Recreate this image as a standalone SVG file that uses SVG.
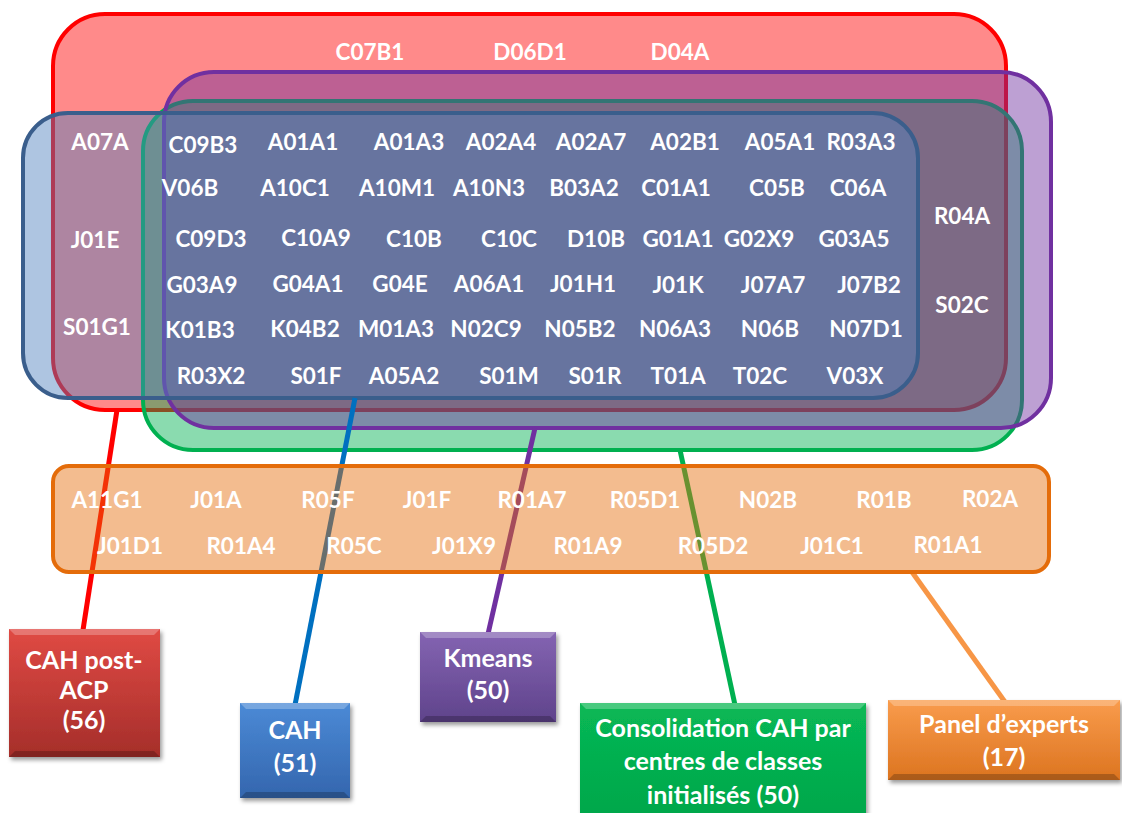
<svg xmlns="http://www.w3.org/2000/svg" width="1122" height="813" viewBox="0 0 1122 813">
<style>
.lbl{font-family:Lato,"Liberation Sans",sans-serif;font-weight:700;font-size:22.5px;fill:#fff;text-anchor:middle}
.bx{font-size:25px}
.set{stroke-width:4;fill-opacity:0.46}
.con{stroke-width:5;fill:none;stroke-linecap:butt}
.hi{fill:#fff;fill-opacity:0.25}
.sh{fill:#000;fill-opacity:0.22}
</style>
<defs>
<filter id="ds" x="-10%" y="-10%" width="130%" height="130%"><feDropShadow dx="2" dy="3" stdDeviation="2" flood-color="#000" flood-opacity="0.4"/></filter>
<linearGradient id="gR" x1="0" y1="0" x2="0" y2="1"><stop offset="0" stop-color="#e04a44"/><stop offset="1" stop-color="#a52e2a"/></linearGradient>
<linearGradient id="gB" x1="0" y1="0" x2="0" y2="1"><stop offset="0" stop-color="#4b8ad6"/><stop offset="1" stop-color="#3466ae"/></linearGradient>
<linearGradient id="gP" x1="0" y1="0" x2="0" y2="1"><stop offset="0" stop-color="#8464b2"/><stop offset="1" stop-color="#5f438b"/></linearGradient>
<linearGradient id="gG" x1="0" y1="0" x2="0" y2="1"><stop offset="0" stop-color="#08b855"/><stop offset="1" stop-color="#00a64a"/></linearGradient>
<linearGradient id="gO" x1="0" y1="0" x2="0" y2="1"><stop offset="0" stop-color="#f99c4c"/><stop offset="1" stop-color="#dc7420"/></linearGradient>
</defs>
<rect width="1122" height="813" fill="#fff"/>

<g id="set-red"><rect class="set" x="53" y="14" width="953" height="396" rx="52" fill="#ff0000" stroke="#ff0000"/></g>
<g id="set-green"><rect class="set" x="143" y="101" width="879" height="349" rx="50" fill="#00b050" fill-opacity="0.44" stroke="#00b050"/></g>
<g id="set-purple"><rect class="set" x="164" y="72" width="887" height="356" rx="50" fill="#7030a0" fill-opacity="0.47" stroke="#7030a0"/></g>
<g id="set-blue"><rect class="set" x="23" y="113" width="895" height="285" rx="45" fill="#4f81bd" stroke="#3a5e8c"/></g>

<g id="connectors">
<line class="con" x1="117" y1="410" x2="83" y2="630" stroke="#ff0000"/>
<line class="con" x1="355" y1="398" x2="295" y2="705" stroke="#0070c0"/>
<line class="con" x1="535" y1="428" x2="488" y2="634" stroke="#7030a0"/>
<line class="con" x1="680" y1="450" x2="735" y2="705" stroke="#00b050"/>
<line class="con" x1="912" y1="572" x2="1005" y2="702" stroke="#f79646"/>
</g>

<g id="set-orange"><rect x="53" y="466" width="996" height="106" rx="16" fill="#e46c0a" fill-opacity="0.46" stroke="#e46c0a" stroke-width="4"/></g>

<g id="labels-red-only">
<text class="lbl" x="370" y="60">C07B1</text>
<text class="lbl" x="530" y="60">D06D1</text>
<text class="lbl" x="680" y="60">D04A</text>
</g>
<g id="labels-red-blue">
<text class="lbl" x="100" y="150">A07A</text>
<text class="lbl" x="95" y="248">J01E</text>
<text class="lbl" x="97" y="335">S01G1</text>
</g>
<g id="labels-red-green-purple">
<text class="lbl" x="962" y="224">R04A</text>
<text class="lbl" x="962" y="313">S02C</text>
</g>
<g id="labels-core">
<text class="lbl" x="203" y="153">C09B3</text>
<text class="lbl" x="303" y="150">A01A1</text>
<text class="lbl" x="409" y="150">A01A3</text>
<text class="lbl" x="501" y="150">A02A4</text>
<text class="lbl" x="591" y="150">A02A7</text>
<text class="lbl" x="685" y="150">A02B1</text>
<text class="lbl" x="780" y="150">A05A1</text>
<text class="lbl" x="861" y="150">R03A3</text>
<text class="lbl" x="190" y="196">V06B</text>
<text class="lbl" x="295" y="196">A10C1</text>
<text class="lbl" x="397" y="196">A10M1</text>
<text class="lbl" x="489" y="196">A10N3</text>
<text class="lbl" x="584" y="196">B03A2</text>
<text class="lbl" x="676" y="196">C01A1</text>
<text class="lbl" x="777" y="196">C05B</text>
<text class="lbl" x="858" y="196">C06A</text>
<text class="lbl" x="211" y="247">C09D3</text>
<text class="lbl" x="316" y="246">C10A9</text>
<text class="lbl" x="414" y="247">C10B</text>
<text class="lbl" x="509" y="247">C10C</text>
<text class="lbl" x="596" y="247">D10B</text>
<text class="lbl" x="678" y="247">G01A1</text>
<text class="lbl" x="759" y="247">G02X9</text>
<text class="lbl" x="854" y="247">G03A5</text>
<text class="lbl" x="202" y="293">G03A9</text>
<text class="lbl" x="308" y="292">G04A1</text>
<text class="lbl" x="400" y="292">G04E</text>
<text class="lbl" x="489" y="292">A06A1</text>
<text class="lbl" x="583" y="292">J01H1</text>
<text class="lbl" x="678" y="293">J01K</text>
<text class="lbl" x="773" y="293">J07A7</text>
<text class="lbl" x="869" y="293">J07B2</text>
<text class="lbl" x="200" y="338">K01B3</text>
<text class="lbl" x="305" y="337">K04B2</text>
<text class="lbl" x="396" y="337">M01A3</text>
<text class="lbl" x="486" y="337">N02C9</text>
<text class="lbl" x="580" y="337">N05B2</text>
<text class="lbl" x="675" y="337">N06A3</text>
<text class="lbl" x="770" y="337">N06B</text>
<text class="lbl" x="866" y="337">N07D1</text>
<text class="lbl" x="211" y="384">R03X2</text>
<text class="lbl" x="316" y="384">S01F</text>
<text class="lbl" x="404" y="384">A05A2</text>
<text class="lbl" x="509" y="384">S01M</text>
<text class="lbl" x="595" y="384">S01R</text>
<text class="lbl" x="678" y="384">T01A</text>
<text class="lbl" x="760" y="384">T02C</text>
<text class="lbl" x="855" y="384">V03X</text>
</g>
<g id="labels-orange">
<text class="lbl" x="107" y="508">A11G1</text>
<text class="lbl" x="216" y="508">J01A</text>
<text class="lbl" x="328" y="508">R05F</text>
<text class="lbl" x="427" y="508">J01F</text>
<text class="lbl" x="532" y="508">R01A7</text>
<text class="lbl" x="645" y="508">R05D1</text>
<text class="lbl" x="768" y="508">N02B</text>
<text class="lbl" x="884" y="508">R01B</text>
<text class="lbl" x="990" y="507">R02A</text>
<text class="lbl" x="130" y="554">J01D1</text>
<text class="lbl" x="241" y="554">R01A4</text>
<text class="lbl" x="354" y="554">R05C</text>
<text class="lbl" x="464" y="554">J01X9</text>
<text class="lbl" x="588" y="554">R01A9</text>
<text class="lbl" x="713" y="554">R05D2</text>
<text class="lbl" x="832" y="554">J01C1</text>
<text class="lbl" x="948" y="553">R01A1</text>
</g>

<g id="box-cah-post-acp">
<rect x="9" y="629" width="151" height="128" fill="url(#gR)" filter="url(#ds)"/>
<polygon class="hi" points="9,629 160,629 154,635 15,635"/>
<polygon class="sh" points="9,757 160,757 154,751 15,751"/>
<text class="lbl bx" x="84" y="669">CAH post-</text>
<text class="lbl bx" x="84" y="699">ACP</text>
<text class="lbl bx" x="84" y="729">(56)</text>
</g>
<g id="box-cah">
<rect x="240" y="703" width="110" height="95" fill="url(#gB)" filter="url(#ds)"/>
<polygon class="hi" points="240,703 350,703 344,709 246,709"/>
<polygon class="sh" points="240,798 350,798 344,792 246,792"/>
<text class="lbl bx" x="295" y="739">CAH</text>
<text class="lbl bx" x="295" y="772">(51)</text>
</g>
<g id="box-kmeans">
<rect x="420" y="632" width="136" height="90" fill="url(#gP)" filter="url(#ds)"/>
<polygon class="hi" points="420,632 556,632 550,638 426,638"/>
<polygon class="sh" points="420,722 556,722 550,716 426,716"/>
<text class="lbl bx" x="488" y="667">Kmeans</text>
<text class="lbl bx" x="488" y="699">(50)</text>
</g>
<g id="box-consolidation">
<rect x="580" y="703" width="286" height="120" fill="url(#gG)" filter="url(#ds)"/>
<polygon class="hi" points="580,703 866,703 860,709 586,709"/>
<text class="lbl bx" x="723" y="737">Consolidation CAH par</text>
<text class="lbl bx" x="723" y="770">centres de classes</text>
<text class="lbl bx" x="723" y="804">initialisés (50)</text>
</g>
<g id="box-panel">
<rect x="888" y="700" width="232" height="80" fill="url(#gO)" filter="url(#ds)"/>
<polygon class="hi" points="888,700 1120,700 1114,706 894,706"/>
<polygon class="sh" points="888,780 1120,780 1114,774 894,774"/>
<text class="lbl bx" x="1004" y="733">Panel d’experts</text>
<text class="lbl bx" x="1004" y="766">(17)</text>
</g>
</svg>
